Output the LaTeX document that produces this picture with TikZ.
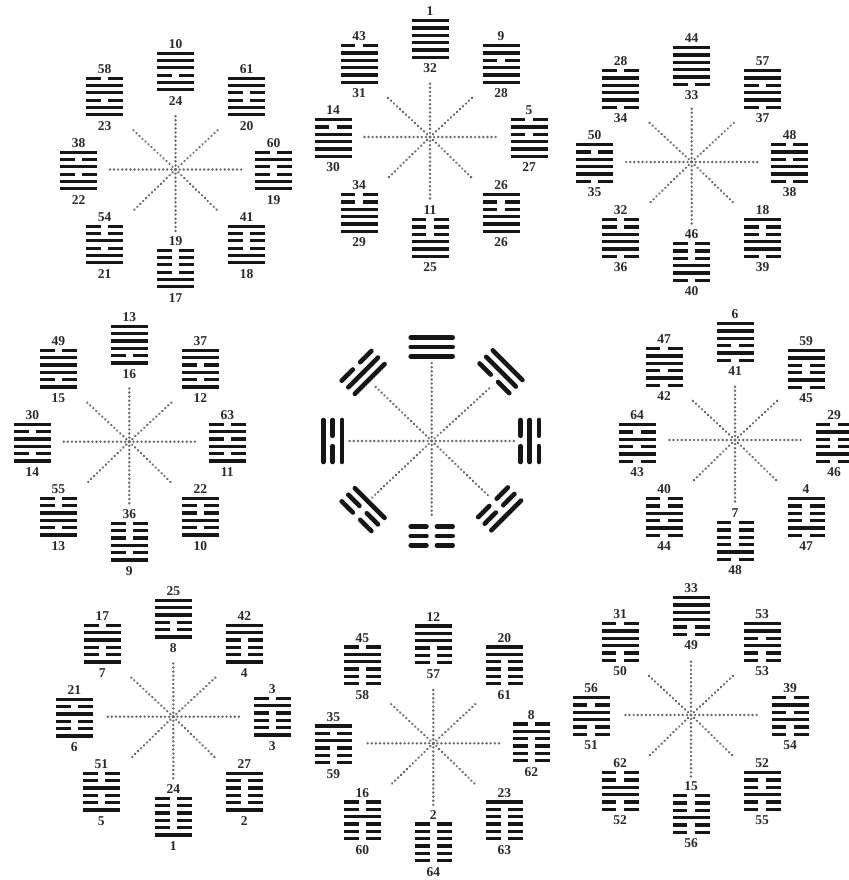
\documentclass[tikz,border=0pt]{standalone}
\usepackage{fontspec}
\setmainfont{Liberation Serif}
\usepackage{xcolor}
\usetikzlibrary{decorations.markings}
\definecolor{ink}{HTML}{161616}
\definecolor{numink}{HTML}{2A2A2A}
\definecolor{dotgray}{HTML}{6A6A6A}
\tikzset{
  hexline/.style={line width=3.2pt, draw=ink},
  num/.style={font=\fontsize{13.5}{14}\selectfont\bfseries, text=numink, inner sep=0pt},
  dotline/.style={postaction={decorate}, decoration={markings,
      mark=between positions 0 and 1 step 4.1pt with {\fill[dotgray] (0,0) circle (1.35pt);}}},
  trigline/.style={line width=4.6pt, line cap=round, draw=ink},
}
\def\tgQ{1,1,1}
\def\tgD{0,1,1}
\def\tgL{1,0,1}
\def\tgZ{0,0,1}
\def\tgK{0,0,0}
\def\tgG{1,0,0}
\def\tgA{0,1,0}
\def\tgX{1,1,0}
% hexagram: #1 x, #2 y, #3 bits top->bottom, #4 top number, #5 bottom number, #6 name
\newcommand\hexg[6]{%
  \begin{scope}[shift={(#1,#2)}]
  \edef\hexbits{#3}%
  \foreach \hb [count=\hi] in \hexbits {
    \pgfmathsetmacro\hy{-18.25+(\hi-1)*7.3}
    \ifnum\hb=1
      \draw[hexline] (-18.5,\hy) -- (18.5,\hy);
    \else
      \draw[hexline] (-18.5,\hy) -- (-3.6,\hy);
      \draw[hexline] (3.6,\hy) -- (18.5,\hy);
    \fi
  }
  \node[num] (#6t) at (0,-27.5) {#4};
  \node[num] (#6b) at (0,29.5) {#5};
  \end{scope}
}
% dotted star of a cluster
\newcommand\dotstar[1]{%
  \coordinate (#1) at (0,0);
  \coordinate (#1n) at (0,-57);
  \coordinate (#1s) at (0,62);
  \coordinate (#1w) at (-66,0);
  \coordinate (#1e) at (67,0);
  \coordinate (#1nw) at (-43,-40);
  \coordinate (#1ne) at (43,-40);
  \coordinate (#1sw) at (-43,42);
  \coordinate (#1se) at (43,42);
  \foreach \d in {n,s,w,e,nw,ne,sw,se} { \path[dotline] (#1) -- (#1\d); }
}
% trigram of the centre: #1 angle, #2 distance, #3 #4 #5 bits outer->inner, #6 name
\newcommand\trig[6]{%
  \foreach \hb/\k in {#3/1,#4/0,#5/-1} {
    \pgfmathsetmacro\rr{#2+\k*9.3}
    \begin{scope}[shift={(#1:\rr)}]
      \ifnum\hb=1
        \draw[trigline] ({#1+90}:21) -- ({#1-90}:21);
      \else
        \draw[trigline] ({#1+90}:21) -- ({#1+90}:5.2);
        \draw[trigline] ({#1-90}:5.2) -- ({#1-90}:21);
      \fi
    \end{scope}
  }
  \coordinate (#6) at (#1:#2);
}
\begin{document}
\begin{tikzpicture}[x=1pt,y=-1pt]
\useasboundingbox (0,0) rectangle (848,880);
\fill[white] (0,0) rectangle (848,880);

% ---------- cluster 1 : lower Lake
\begin{scope}[shift={(175.5,169.5)}]
 \dotstar{s1}
 \hexg{0}{-98}{\tgQ,\tgD}{10}{24}{c1T}
 \hexg{-71}{-73}{\tgD,\tgD}{58}{23}{c1TL}
 \hexg{-97}{1}{\tgL,\tgD}{38}{22}{c1L}
 \hexg{-71}{75}{\tgZ,\tgD}{54}{21}{c1BL}
 \hexg{0}{99}{\tgK,\tgD}{19}{17}{c1B}
 \hexg{71}{75}{\tgG,\tgD}{41}{18}{c1BR}
 \hexg{98}{1}{\tgA,\tgD}{60}{19}{c1R}
 \hexg{71}{-73}{\tgX,\tgD}{61}{20}{c1TR}
\end{scope}

% ---------- cluster 2 : lower Heaven
\begin{scope}[shift={(430,137)}]
 \dotstar{s2}
 \hexg{0}{-98}{\tgQ,\tgQ}{1}{32}{c2T}
 \hexg{-71}{-73}{\tgD,\tgQ}{43}{31}{c2TL}
 \hexg{-97}{1}{\tgL,\tgQ}{14}{30}{c2L}
 \hexg{-71}{76}{\tgZ,\tgQ}{34}{29}{c2BL}
 \hexg{0}{101}{\tgK,\tgQ}{11}{25}{c2B}
 \hexg{71}{76}{\tgG,\tgQ}{26}{26}{c2BR}
 \hexg{99}{1}{\tgA,\tgQ}{5}{27}{c2R}
 \hexg{71}{-73}{\tgX,\tgQ}{9}{28}{c2TR}
\end{scope}

% ---------- cluster 3 : lower Wind
\begin{scope}[shift={(691.7,162)}]
 \dotstar{s3}
 \hexg{0}{-96}{\tgQ,\tgX}{44}{33}{c3T}
 \hexg{-71}{-73}{\tgD,\tgX}{28}{34}{c3TL}
 \hexg{-97}{1}{\tgL,\tgX}{50}{35}{c3L}
 \hexg{-71}{76}{\tgZ,\tgX}{32}{36}{c3BL}
 \hexg{0}{100}{\tgK,\tgX}{46}{40}{c3B}
 \hexg{71}{76}{\tgG,\tgX}{18}{39}{c3BR}
 \hexg{98}{1}{\tgA,\tgX}{48}{38}{c3R}
 \hexg{71}{-73}{\tgX,\tgX}{57}{37}{c3TR}
\end{scope}

% ---------- cluster 4 : lower Fire
\begin{scope}[shift={(129.3,441.7)}]
 \dotstar{s4}
 \hexg{0}{-97}{\tgQ,\tgL}{13}{16}{c4T}
 \hexg{-71}{-73}{\tgD,\tgL}{49}{15}{c4TL}
 \hexg{-97}{1}{\tgL,\tgL}{30}{14}{c4L}
 \hexg{-71}{75}{\tgZ,\tgL}{55}{13}{c4BL}
 \hexg{0}{100}{\tgK,\tgL}{36}{9}{c4B}
 \hexg{71}{75}{\tgG,\tgL}{22}{10}{c4BR}
 \hexg{98}{1}{\tgA,\tgL}{63}{11}{c4R}
 \hexg{71}{-73}{\tgX,\tgL}{37}{12}{c4TR}
\end{scope}

% ---------- centre : the eight trigrams
\begin{scope}[shift={(431.7,441)}]
 \coordinate (s5) at (0,0);
 \coordinate (s5n) at (0,-80);
 \coordinate (s5s) at (0,77);
 \coordinate (s5w) at (-84,0);
 \coordinate (s5e) at (83,0);
 \coordinate (s5nw) at (-58,-56);
 \coordinate (s5ne) at (58,-53);
 \coordinate (s5sw) at (-60,57);
 \coordinate (s5se) at (58,56);
 \foreach \d in {n,s,w,e,nw,ne,sw,se} { \path[dotline] (s5) -- (s5\d); }
 \trig{-90}{94}{1}{1}{1}{g1}
 \trig{-135}{97}{0}{1}{1}{g2}
 \trig{180}{99}{1}{0}{1}{g3}
 \trig{135}{97}{0}{0}{1}{g4}
 \trig{90}{95}{0}{0}{0}{g5}
 \trig{45}{96}{1}{0}{0}{g6}
 \trig{0}{98}{0}{1}{0}{g7}
 \trig{-45}{98}{1}{1}{0}{g8}
\end{scope}

% ---------- cluster 6 : lower Water
\begin{scope}[shift={(735,440)}]
 \dotstar{s6}
 \hexg{0}{-98}{\tgQ,\tgA}{6}{41}{c6T}
 \hexg{-71}{-73}{\tgD,\tgA}{47}{42}{c6TL}
 \hexg{-98}{3}{\tgL,\tgA}{64}{43}{c6L}
 \hexg{-71}{77}{\tgZ,\tgA}{40}{44}{c6BL}
 \hexg{0}{101}{\tgK,\tgA}{7}{48}{c6B}
 \hexg{71}{77}{\tgG,\tgA}{4}{47}{c6BR}
 \hexg{99}{3}{\tgA,\tgA}{29}{46}{c6R}
 \hexg{71}{-71}{\tgX,\tgA}{59}{45}{c6TR}
\end{scope}

% ---------- cluster 7 : lower Thunder
\begin{scope}[shift={(173.3,716.7)}]
 \dotstar{s7}
 \hexg{0}{-98}{\tgQ,\tgZ}{25}{8}{c7T}
 \hexg{-71}{-73}{\tgD,\tgZ}{17}{7}{c7TL}
 \hexg{-99}{1}{\tgL,\tgZ}{21}{6}{c7L}
 \hexg{-72}{75}{\tgZ,\tgZ}{51}{5}{c7BL}
 \hexg{0}{100}{\tgK,\tgZ}{24}{1}{c7B}
 \hexg{71}{75}{\tgG,\tgZ}{27}{2}{c7BR}
 \hexg{99}{0}{\tgA,\tgZ}{3}{3}{c7R}
 \hexg{71}{-73}{\tgX,\tgZ}{42}{4}{c7TR}
\end{scope}

% ---------- cluster 8 : lower Earth
\begin{scope}[shift={(433.3,743.3)}]
 \dotstar{s8}
 \hexg{0}{-99}{\tgQ,\tgK}{12}{57}{c8T}
 \hexg{-71}{-78}{\tgD,\tgK}{45}{58}{c8TL}
 \hexg{-100}{1}{\tgL,\tgK}{35}{59}{c8L}
 \hexg{-71}{77}{\tgZ,\tgK}{16}{60}{c8BL}
 \hexg{0}{99}{\tgK,\tgK}{2}{64}{c8B}
 \hexg{71}{77}{\tgG,\tgK}{23}{63}{c8BR}
 \hexg{98}{-1}{\tgA,\tgK}{8}{62}{c8R}
 \hexg{71}{-78}{\tgX,\tgK}{20}{61}{c8TR}
\end{scope}

% ---------- cluster 9 : lower Mountain
\begin{scope}[shift={(691,715)}]
 \dotstar{s9}
 \hexg{0}{-99}{\tgQ,\tgG}{33}{49}{c9T}
 \hexg{-71}{-73}{\tgD,\tgG}{31}{50}{c9TL}
 \hexg{-100}{1}{\tgL,\tgG}{56}{51}{c9L}
 \hexg{-71}{76}{\tgZ,\tgG}{62}{52}{c9BL}
 \hexg{0}{99}{\tgK,\tgG}{15}{56}{c9B}
 \hexg{71}{76}{\tgG,\tgG}{52}{55}{c9BR}
 \hexg{99}{1}{\tgA,\tgG}{39}{54}{c9R}
 \hexg{71}{-73}{\tgX,\tgG}{53}{53}{c9TR}
\end{scope}
\end{tikzpicture}
\end{document}
